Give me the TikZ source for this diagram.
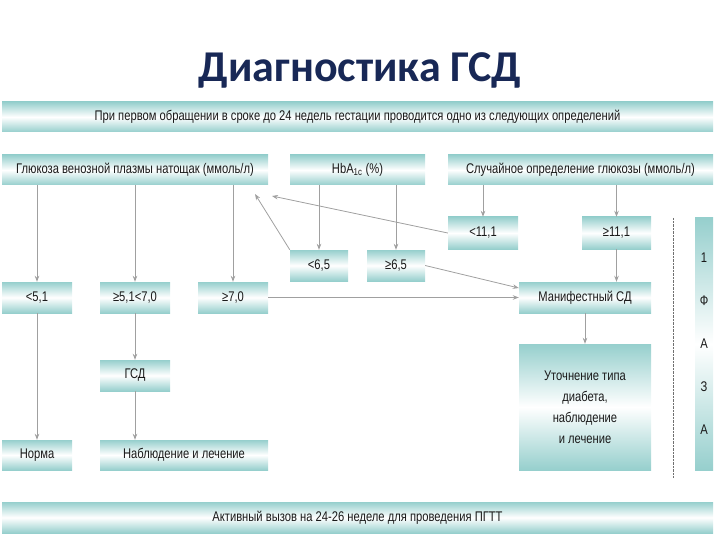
\documentclass[tikz,border=0pt]{standalone}
\usepackage{fontspec}
\setmainfont{Liberation Sans}[FakeStretch=0.8]
\newfontfamily\titlefont{Carlito}
\usetikzlibrary{arrows.meta}
\definecolor{boxteal}{RGB}{150,207,205}
\definecolor{titleblue}{RGB}{24,40,86}
\definecolor{arrowgrey}{RGB}{160,160,160}

\begin{document}
\begin{tikzpicture}[x=1pt, y=-1pt,
        mybox/.style={shape=rectangle, inner sep=0pt, top color=boxteal, bottom color=boxteal,
                      middle color=white, text=black!90, font=\fontsize{14}{16}\selectfont},
        myarrow/.style={draw=arrowgrey, line width=0.8pt, -{Stealth[length=6pt,width=4.5pt]}}
    ]
    \useasboundingbox (0,0) rectangle (720,540);

    \node [font=\titlefont\bfseries\fontsize{44}{52}\selectfont, text=titleblue] (title) at (360,70) {Диагностика ГСД};

    % headers
    \node [mybox, minimum width=711, minimum height=30] (first) at (357.5,117)
        {При первом обращении в сроке до 24 недель гестации проводится одно из следующих определений};
    \node [mybox, minimum width=266, minimum height=30] (glu) at (135,170) {Глюкоза венозной плазмы натощак (ммоль/л)};
    \node [mybox, minimum width=135, minimum height=30] (hba) at (357.5,170) {HbA\textsubscript{1c} (\%)};
    \node [mybox, minimum width=265, minimum height=30] (rnd) at (580.5,170) {Случайное определение глюкозы (ммоль/л)};

    % values
    \node [mybox, minimum width=70, minimum height=32] (lt111) at (483,233) {<11,1};
    \node [mybox, minimum width=69, minimum height=32] (ge111) at (616.5,233) {≥11,1};
    \node [mybox, minimum width=58, minimum height=31] (lt65) at (319,265.5) {<6,5};
    \node [mybox, minimum width=58, minimum height=31] (ge65) at (396,265.5) {≥6,5};
    \node [mybox, minimum width=70, minimum height=31] (lt51) at (37,297.5) {<5,1};
    \node [mybox, minimum width=70, minimum height=31] (mid) at (135,297.5) {≥5,1<7,0};
    \node [mybox, minimum width=70, minimum height=31] (ge70) at (233,297.5) {≥7,0};
    \node [mybox, minimum width=132, minimum height=31] (manif) at (585,297.5) {Манифестный СД};

    % results
    \node [mybox, minimum width=70, minimum height=31] (gsd) at (135,375.5) {ГСД};
    \node [mybox, minimum width=132, minimum height=126, align=center,
           font=\fontsize{14}{21}\selectfont] (clarify) at (585,407)
        {Уточнение типа\\диабета,\\наблюдение\\и лечение};
    \node [mybox, minimum width=70, minimum height=30] (norma) at (37,455) {Норма};
    \node [mybox, minimum width=168, minimum height=30] (nabl) at (184,455) {Наблюдение и лечение};
    \node [mybox, minimum width=711, minimum height=31] (last) at (357.5,517.5)
        {Активный вызов на 24-26 неделе для проведения ПГТТ};

    % phase bar
    \node [mybox, minimum width=18, minimum height=252, align=center,
           font=\fontsize{14}{43}\selectfont] (phase) at (704,344) {1\\Ф\\А\\З\\А};
    \coordinate (dottop) at (673,218);
    \coordinate (dotbot) at (673,478);
    \draw [arrowgrey!70!black, densely dotted] (dottop) -- (dotbot);

    % arrows
    \foreach \mynode in {lt51, mid, ge70}
        \draw [myarrow] (\mynode |- glu.south) -- (\mynode.north);
    \foreach \mynode in {lt65, ge65}
        \draw [myarrow] (\mynode |- hba.south) -- (\mynode.north);
    \foreach \mynode in {lt111, ge111}
        \draw [myarrow] (\mynode |- rnd.south) -- (\mynode.north);
    \draw [myarrow] (ge111.south) -- (ge111.south |- manif.north);
    \draw [myarrow] (ge70.east) -- (manif.west);
    \draw [myarrow] (ge65.east) -- ([yshift=9.5pt]manif.west);
    \coordinate (tipA) at (272,196);
    \coordinate (tipB) at (255,194);
    \draw [myarrow] (lt111.west) -- (tipA);
    \draw [myarrow] (lt65.north west) -- (tipB);
    \draw [myarrow] (manif.south) -- (clarify.north);
    \draw [myarrow] (mid.south) -- (gsd.north);
    \draw [myarrow] (gsd.south) -- (gsd.south |- nabl.north);
    \draw [myarrow] (lt51.south) -- (norma.north);
\end{tikzpicture}
\end{document}
